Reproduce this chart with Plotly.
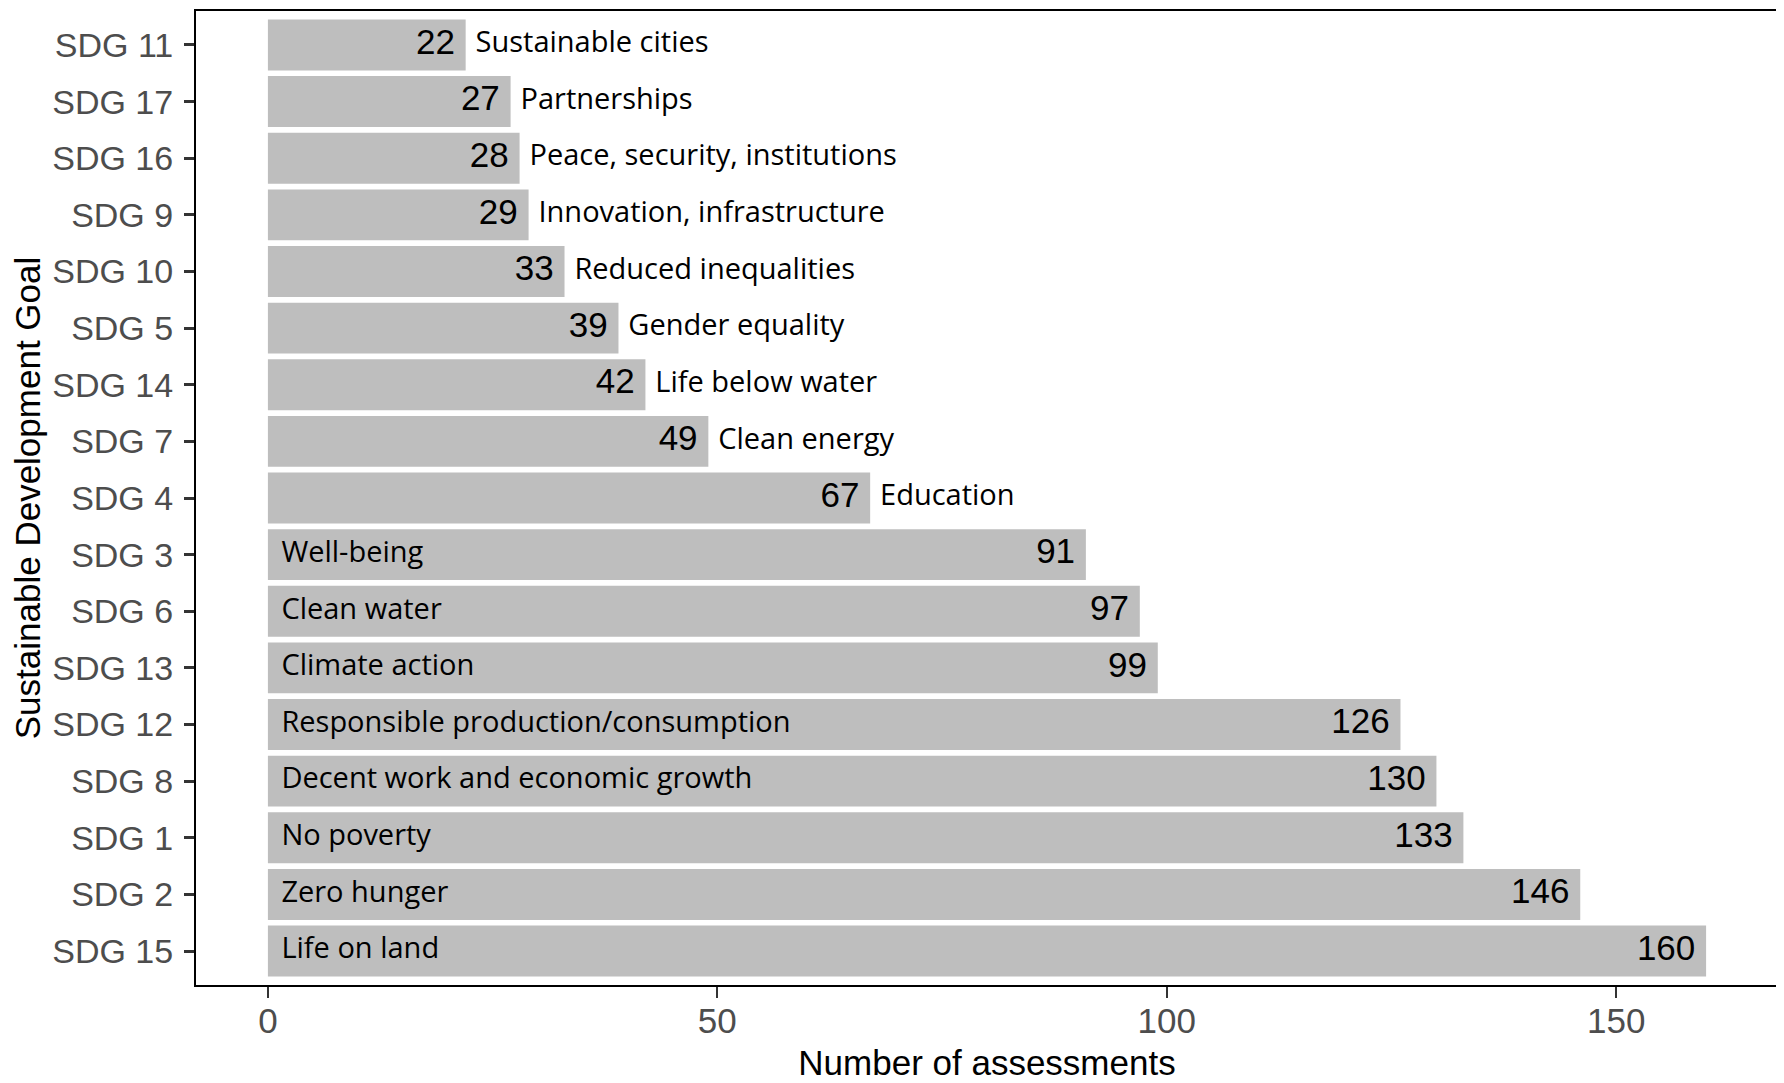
import plotly.graph_objects as go

# bottom to top
goals = ["SDG 15", "SDG 2", "SDG 1", "SDG 8", "SDG 12", "SDG 13", "SDG 6", "SDG 3",
         "SDG 4", "SDG 7", "SDG 14", "SDG 5", "SDG 10", "SDG 9", "SDG 16", "SDG 17", "SDG 11"]
counts = [160, 146, 133, 130, 126, 99, 97, 91, 67, 49, 42, 39, 33, 29, 28, 27, 22]
names = ["Life on land", "Zero hunger", "No poverty", "Decent work and economic growth",
         "Responsible production/consumption", "Climate action", "Clean water", "Well-being",
         "Education", "Clean energy", "Life below water", "Gender equality",
         "Reduced inequalities", "Innovation, infrastructure", "Peace, security, institutions",
         "Partnerships", "Sustainable cities"]

BAR = "#BEBEBE"
fig = go.Figure()

fig.add_trace(go.Bar(x=counts, y=goals, orientation="h", width=0.9,
                     marker=dict(color=BAR, line=dict(width=0)), hoverinfo="skip"))

# value labels, inside right end of the bar
fig.add_trace(go.Scatter(x=[c - 1.2 for c in counts], y=goals, mode="text",
                         text=[str(c) for c in counts], textposition="middle left",
                         textfont=dict(family="Liberation Sans, Arial", size=35, color="black"),
                         hoverinfo="skip"))

# goal names: inside bar for long bars, outside for short ones
inside = [c > 80 for c in counts]
name_x = [1.5 if ins else c + 1.1 for c, ins in zip(counts, inside)]
fig.add_trace(go.Scatter(x=name_x, y=goals, mode="text", text=names,
                         textposition="middle right",
                         textfont=dict(family="Open Sans, Noto Sans", size=29, color="black"),
                         hoverinfo="skip"))

# page body has an 8px margin, so the figure is a bit smaller than the window
fig.update_layout(
    width=1776, height=1075,
    margin=dict(l=188, r=6, t=1, b=98),
    plot_bgcolor="white", paper_bgcolor="white",
    showlegend=False,
    font=dict(family="Liberation Sans, Arial", color="black"),
)
fig.update_xaxes(
    range=[-8, 168], tickvals=[0, 50, 100, 150],
    showgrid=False, zeroline=False,
    ticks="outside", ticklen=11, tickwidth=2, tickcolor="#333333",
    tickfont=dict(size=35, color="#4D4D4D"), ticklabelstandoff=-7,
    showline=True, linecolor="black", linewidth=2, mirror=True,
    title=dict(text="Number of assessments", font=dict(size=35, color="black"), standoff=11),
)
fig.update_yaxes(
    categoryorder="array", categoryarray=goals, range=[-0.6, 16.6],
    showgrid=False, zeroline=False,
    ticks="outside", ticklen=10, tickwidth=3, tickcolor="#333333",
    tickfont=dict(size=34, color="#4D4D4D"), ticklabelstandoff=4,
    showline=True, linecolor="black", linewidth=2, mirror=True,
    title=dict(text="Sustainable Development Goal", font=dict(size=35, color="black"), standoff=15),
)

fig.write_html("out.html")
